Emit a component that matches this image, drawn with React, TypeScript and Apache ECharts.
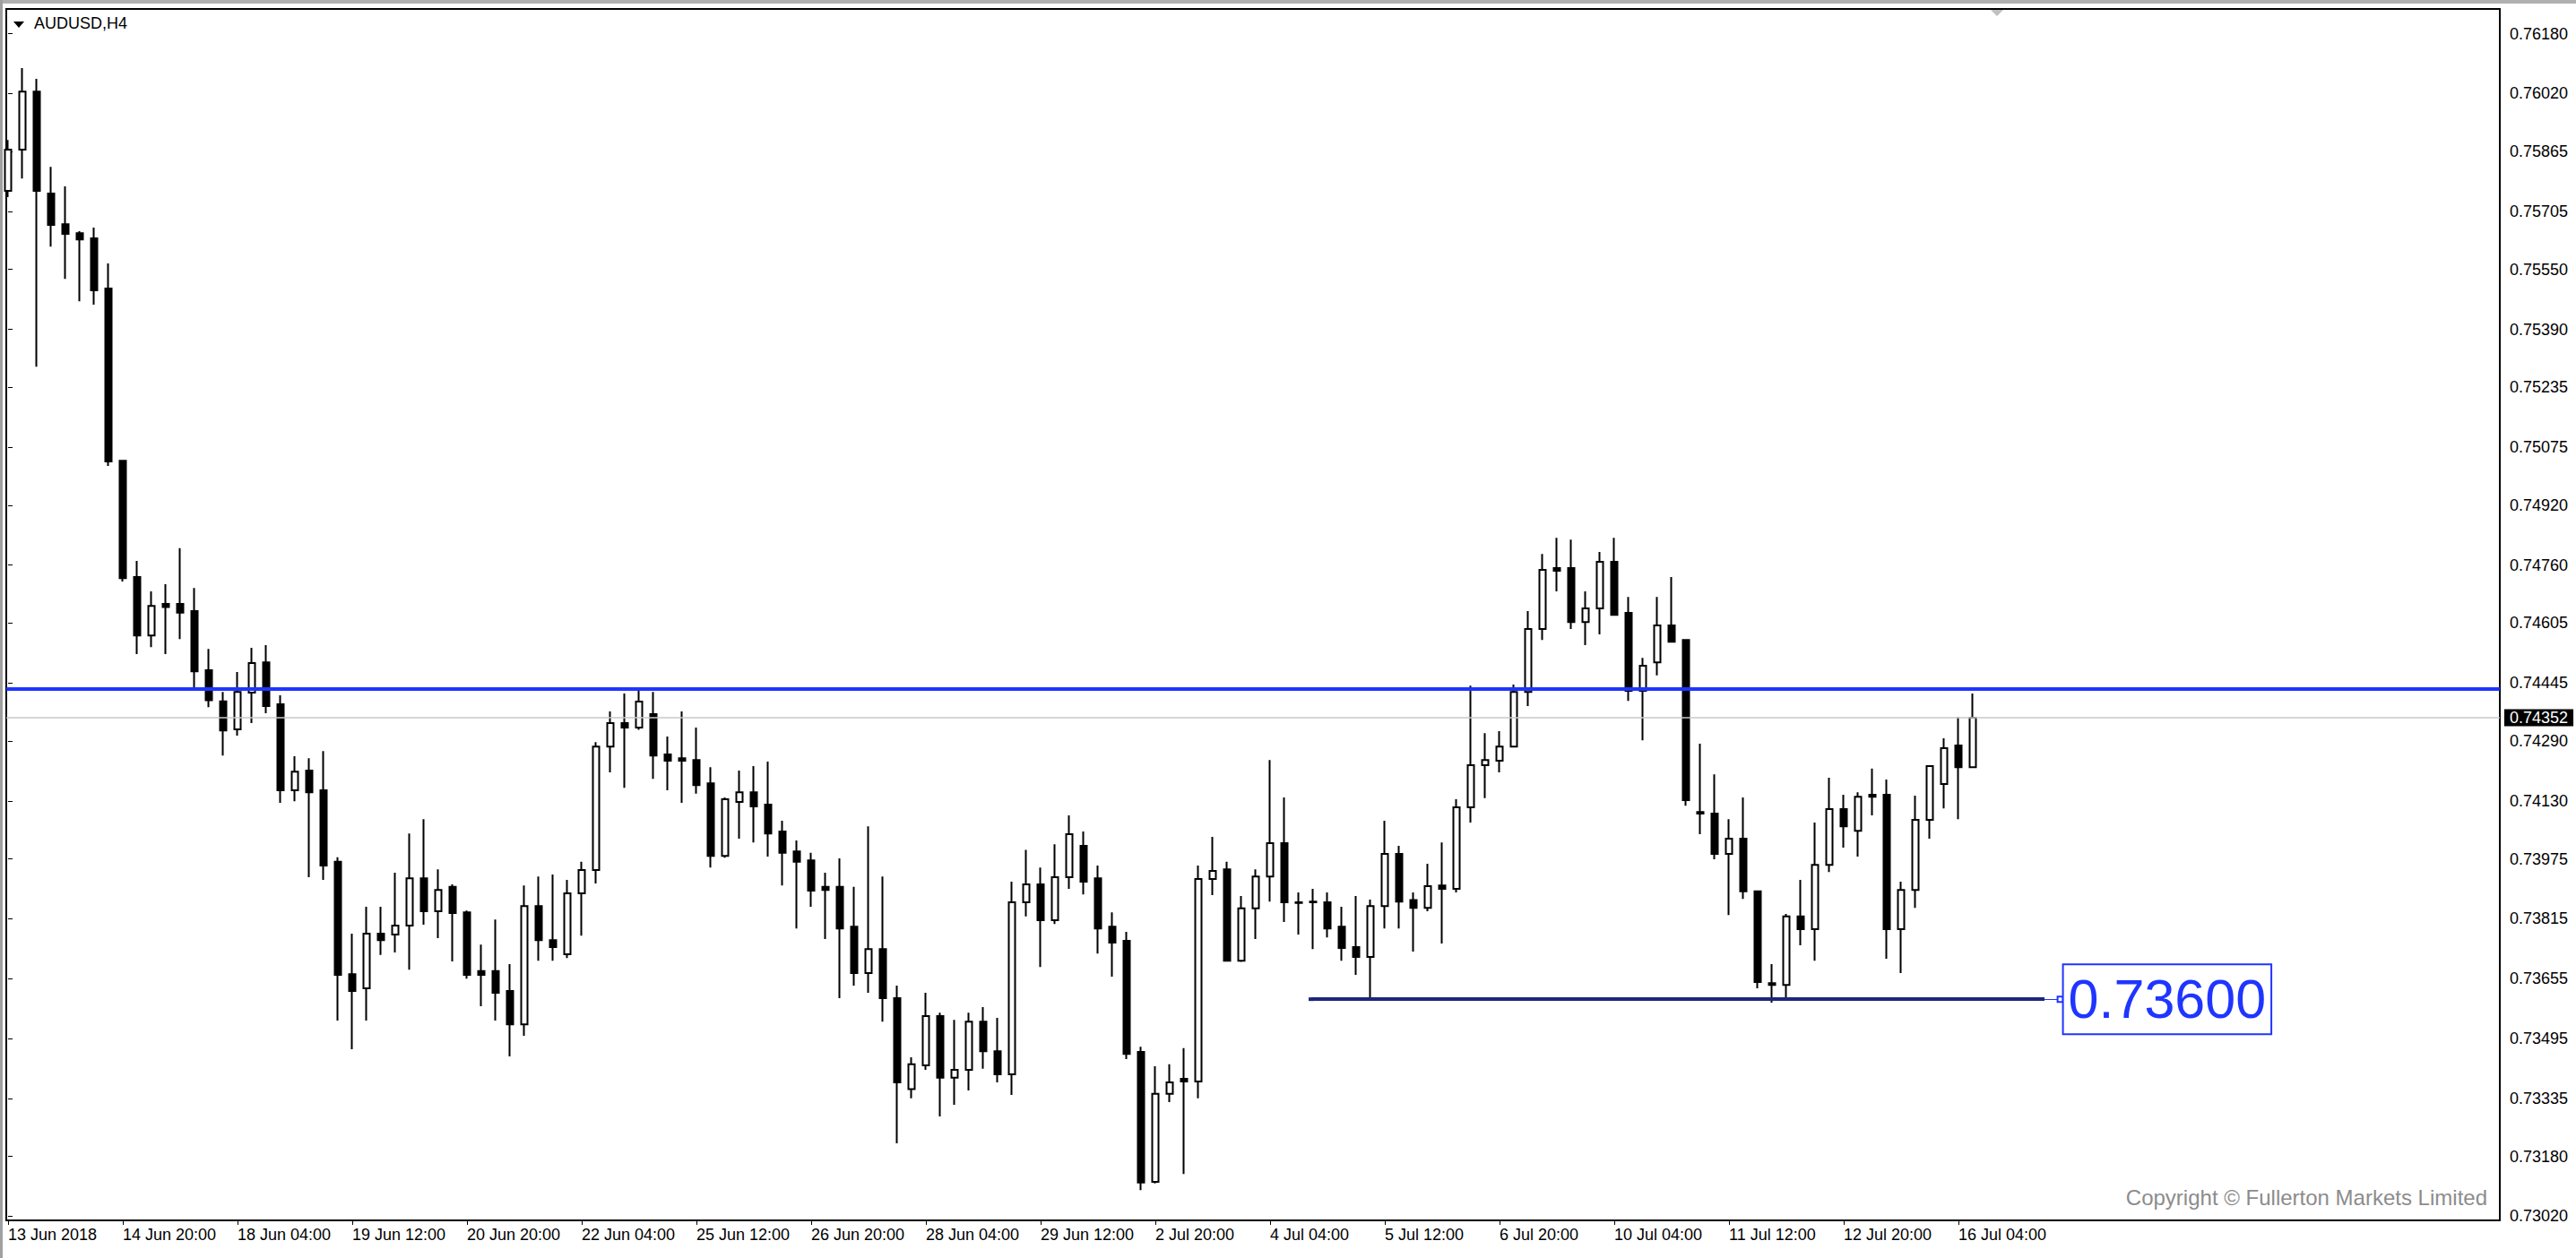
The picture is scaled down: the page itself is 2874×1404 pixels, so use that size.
import { useEffect, useRef } from 'react'
import * as echarts from 'echarts'

// AUDUSD H4, 138 bars from 13 Jun 2018 12:00 to 16 Jul 2018 08:00
const OPEN = [
  0.7576, 0.7587, 0.76025, 0.75753, 0.75671, 0.75647, 0.75633, 0.75499, 0.75039, 0.74728,
  0.74572, 0.74656, 0.74656, 0.74637, 0.74479, 0.74396, 0.74321, 0.74419, 0.745, 0.74388,
  0.74158, 0.74211, 0.74158, 0.73967, 0.73667, 0.73629, 0.73775, 0.73773, 0.73797, 0.73923,
  0.73835, 0.739, 0.73832, 0.73675, 0.73675, 0.73622, 0.73533, 0.73849, 0.73758, 0.7372,
  0.73883, 0.73945, 0.74275, 0.74338, 0.74326, 0.74362, 0.74254, 0.74244, 0.74239, 0.74177,
  0.73983, 0.74127, 0.74153, 0.7412, 0.74048, 0.73995, 0.73971, 0.739, 0.739, 0.73794,
  0.7367, 0.73734, 0.73603, 0.7336, 0.73423, 0.73555, 0.7339, 0.73411, 0.7354, 0.73461,
  0.73399, 0.73859, 0.73907, 0.73811, 0.73926, 0.7401, 0.73923, 0.73794, 0.73756, 0.73459,
  0.73112, 0.73347, 0.73387, 0.7338, 0.73921, 0.73947, 0.73703, 0.73843, 0.73928, 0.74017,
  0.73859, 0.73859, 0.73859, 0.73794, 0.73739, 0.73713, 0.73849, 0.73988, 0.73865, 0.73844,
  0.73904, 0.73895, 0.74113, 0.74225, 0.74237, 0.74275, 0.74421, 0.74589, 0.74752, 0.74752,
  0.74608, 0.74644, 0.74769, 0.74632, 0.74424, 0.745, 0.74599, 0.7456, 0.741, 0.74096,
  0.73988, 0.74029, 0.73888, 0.73643, 0.73638, 0.73821, 0.73787, 0.73959, 0.74108, 0.7405,
  0.74146, 0.74146, 0.73787, 0.73892, 0.74079, 0.74175, 0.74278, 0.7422,
]
const HIGH = [
  0.75896, 0.76088, 0.76059, 0.75824, 0.75772, 0.75652, 0.75662, 0.75566, 0.75041, 0.74771,
  0.7469, 0.74709, 0.74805, 0.74699, 0.74536, 0.74421, 0.74474, 0.74539, 0.74546, 0.74412,
  0.74249, 0.74244, 0.74263, 0.73979, 0.73775, 0.73847, 0.73847, 0.73938, 0.74043, 0.74081,
  0.73947, 0.73907, 0.73837, 0.73746, 0.73813, 0.73694, 0.73904, 0.73928, 0.73933, 0.73919,
  0.73967, 0.74287, 0.74369, 0.74417, 0.74431, 0.74421, 0.74302, 0.74369, 0.74326, 0.7422,
  0.74139, 0.74211, 0.74223, 0.74235, 0.74077, 0.74024, 0.73991, 0.73938, 0.73976, 0.739,
  0.74062, 0.73928, 0.73636, 0.73445, 0.73617, 0.73564, 0.73545, 0.73564, 0.73579, 0.7355,
  0.73914, 0.73999, 0.73952, 0.74014, 0.74091, 0.74048, 0.73957, 0.73832, 0.7378, 0.73473,
  0.73421, 0.73426, 0.73469, 0.73957, 0.74034, 0.73967, 0.73876, 0.73947, 0.74239, 0.74139,
  0.73885, 0.73895, 0.73885, 0.73847, 0.73876, 0.73866, 0.74077, 0.7401, 0.73885, 0.73962,
  0.74019, 0.74134, 0.74438, 0.74311, 0.74316, 0.74441, 0.74637, 0.7479, 0.74833, 0.74828,
  0.7469, 0.74795, 0.74833, 0.74675, 0.74512, 0.74675, 0.74728, 0.74562, 0.74283, 0.74201,
  0.74081, 0.74139, 0.7389, 0.73694, 0.73828, 0.73919, 0.74072, 0.74192, 0.74146, 0.74153,
  0.74216, 0.74187, 0.73914, 0.74144, 0.74225, 0.74297, 0.74354, 0.74417,
]
const LOW = [
  0.75743, 0.75793, 0.7529, 0.75611, 0.75525, 0.75465, 0.75456, 0.75025, 0.74716, 0.74522,
  0.74541, 0.74522, 0.74562, 0.74433, 0.7438, 0.74251, 0.74304, 0.74338, 0.74364, 0.74125,
  0.74129, 0.73926, 0.73919, 0.73543, 0.73466, 0.73543, 0.73718, 0.73725, 0.73679, 0.73799,
  0.73763, 0.73701, 0.73655, 0.73581, 0.73543, 0.73447, 0.73502, 0.73703, 0.73703, 0.7371,
  0.7377, 0.73909, 0.74206, 0.74165, 0.7432, 0.74189, 0.74158, 0.74125, 0.74149, 0.73952,
  0.73978, 0.74029, 0.74019, 0.73981, 0.73904, 0.73789, 0.73847, 0.73761, 0.73603, 0.73636,
  0.73617, 0.7354, 0.73215, 0.73335, 0.73411, 0.73287, 0.73318, 0.73356, 0.73414, 0.73378,
  0.73344, 0.73821, 0.73686, 0.73801, 0.73895, 0.7388, 0.73722, 0.7366, 0.7344, 0.7309,
  0.73108, 0.73325, 0.73133, 0.73335, 0.73878, 0.73701, 0.737, 0.73761, 0.73861, 0.73806,
  0.73773, 0.73734, 0.73765, 0.73703, 0.73665, 0.73605, 0.73789, 0.73789, 0.73727, 0.73835,
  0.73749, 0.73885, 0.74072, 0.74137, 0.74206, 0.74275, 0.74383, 0.7456, 0.7469, 0.74589,
  0.74546, 0.74575, 0.74625, 0.74397, 0.74292, 0.74465, 0.74553, 0.74117, 0.74041, 0.73974,
  0.73825, 0.73868, 0.73629, 0.73591, 0.73605, 0.73744, 0.73703, 0.7394, 0.74005, 0.73981,
  0.74091, 0.73708, 0.7367, 0.73844, 0.74029, 0.7411, 0.74081, 0.74218,
]
const CLOSE = [
  0.7587, 0.76025, 0.7576, 0.75669, 0.75645, 0.7563, 0.75494, 0.75037, 0.74725, 0.74572,
  0.74651, 0.74648, 0.74633, 0.74476, 0.74399, 0.74318, 0.74421, 0.74498, 0.74383, 0.74158,
  0.74208, 0.74153, 0.73957, 0.73665, 0.73622, 0.73775, 0.73758, 0.73797, 0.73923, 0.73835,
  0.73892, 0.7383, 0.73665, 0.73665, 0.73617, 0.73533, 0.73849, 0.73758, 0.73739, 0.73883,
  0.73945, 0.74275, 0.74338, 0.74326, 0.74395, 0.74251, 0.74237, 0.74237, 0.74172, 0.73983,
  0.74134, 0.74153, 0.74115, 0.74043, 0.73991, 0.73967, 0.7389, 0.73892, 0.73789, 0.7367,
  0.73734, 0.73603, 0.73378, 0.73426, 0.73555, 0.7339, 0.73411, 0.7354, 0.73461, 0.73399,
  0.73859, 0.73907, 0.73811, 0.73926, 0.74041, 0.73914, 0.73789, 0.73751, 0.73454, 0.7311,
  0.73347, 0.73378, 0.7338, 0.73921, 0.73943, 0.73703, 0.73843, 0.73928, 0.74017, 0.73859,
  0.73857, 0.73861, 0.73789, 0.73737, 0.73713, 0.73849, 0.73988, 0.73861, 0.73844, 0.73902,
  0.73895, 0.74113, 0.74225, 0.74239, 0.74275, 0.74421, 0.74589, 0.74747, 0.74745, 0.74608,
  0.74644, 0.74769, 0.74627, 0.74424, 0.74491, 0.74599, 0.74555, 0.74132, 0.74096, 0.73988,
  0.74029, 0.73888, 0.73646, 0.73638, 0.73821, 0.73787, 0.73959, 0.74108, 0.74062, 0.74141,
  0.74141, 0.73787, 0.73892, 0.74079, 0.74223, 0.74271, 0.7422, 0.74352,
]

// one time label every 8 bars, starting at bar 0
const TIME_LABELS = [
  '13 Jun 2018', '14 Jun 20:00', '18 Jun 04:00', '19 Jun 12:00', '20 Jun 20:00', '22 Jun 04:00',
  '25 Jun 12:00', '26 Jun 20:00', '28 Jun 04:00', '29 Jun 12:00', '2 Jul 20:00', '4 Jul 04:00',
  '5 Jul 12:00', '6 Jul 20:00', '10 Jul 04:00', '11 Jul 12:00', '12 Jul 20:00', '16 Jul 04:00',
]
const LABEL_STEP = 8

const PRICE_TICKS = [
  0.7618, 0.7602, 0.75865, 0.75705, 0.7555, 0.7539, 0.75235, 0.75075, 0.7492, 0.7476, 0.74605,
  0.74445, 0.7429, 0.7413, 0.73975, 0.73815, 0.73655, 0.73495, 0.73335, 0.7318, 0.7302,
]

const RESISTANCE = 0.7443
const BID = 0.74352
const SUPPORT = 0.736
const SUPPORT_FROM = 90.875
const SUPPORT_TO = 142

const X_MIN = -0.125
const X_MAX = 173.75

const FONT = 'Liberation Sans'
const BLUE = '#1f35ff'
const NAVY = '#1c267c'

export default function App() {
  const chartRef = useRef<HTMLDivElement>(null)

  useEffect(() => {
    if (!chartRef.current) return
    document.body.style.margin = '0'
    document.body.style.overflow = 'hidden'

    const chart = echarts.init(chartRef.current, null, { renderer: 'svg' })

    const candles = OPEN.map((o, i) => [i, o, CLOSE[i], LOW[i], HIGH[i]])
    const tickIdx = TIME_LABELS.map((_, k) => k * LABEL_STEP)

    const option: any = {
      animation: false,
      backgroundColor: '#fff',
      textStyle: { fontFamily: FONT },
      grid: {
        left: 7,
        right: 85,
        top: 10,
        bottom: 42,
        show: true,
        borderColor: '#000',
        borderWidth: 2,
        backgroundColor: '#fff',
        outerBoundsMode: 'none',
      },
      xAxis: {
        type: 'value',
        min: X_MIN,
        max: X_MAX,
        splitLine: { show: false },
        axisLine: { show: false },
        axisTick: {
          show: true,
          customValues: tickIdx,
          length: 5,
          lineStyle: { color: '#000', width: 1 },
        },
        axisLabel: {
          customValues: tickIdx,
          formatter: (v: number) => TIME_LABELS[Math.round(v / LABEL_STEP)] ?? '',
          align: 'left',
          margin: 7,
          color: '#000',
          fontSize: 18,
          fontFamily: FONT,
        },
      },
      yAxis: {
        type: 'value',
        position: 'right',
        min: 0.73009,
        max: 0.76246,
        scale: true,
        splitLine: { show: false },
        axisLine: { show: false },
        axisTick: {
          show: true,
          customValues: PRICE_TICKS,
          length: 5,
          lineStyle: { color: '#000', width: 1 },
        },
        axisLabel: {
          customValues: PRICE_TICKS,
          formatter: (v: number) => v.toFixed(5),
          margin: 11,
          color: '#000',
          fontSize: 18,
          fontFamily: FONT,
        },
      },
      series: [
        {
          type: 'candlestick',
          data: candles,
          barWidth: 7,
          clip: true,
          itemStyle: {
            color: '#fff',
            color0: '#000',
            borderColor: '#000',
            borderColor0: '#000',
            borderColorDoji: '#000',
            borderWidth: 2,
          },
          markLine: {
            silent: true,
            animation: false,
            symbol: ['none', 'none'],
            data: [
              [
                { coord: [X_MIN, BID] },
                {
                  coord: [X_MAX, BID],
                  lineStyle: { color: '#c8c8c8', width: 1.5, type: 'solid' },
                  label: {
                    show: true,
                    position: 'end',
                    distance: 5,
                    formatter: () => BID.toFixed(5),
                    color: '#fff',
                    backgroundColor: '#000',
                    padding: [1, 6, 0, 6],
                    fontSize: 18,
                    fontFamily: FONT,
                  },
                },
              ],
              [
                { coord: [X_MIN, RESISTANCE] },
                {
                  coord: [X_MAX, RESISTANCE],
                  lineStyle: { color: BLUE, width: 4, type: 'solid' },
                  label: { show: false },
                },
              ],
              [
                { coord: [SUPPORT_FROM, SUPPORT], symbol: 'rect', symbolSize: [4, 6] },
                {
                  coord: [SUPPORT_TO, SUPPORT],
                  lineStyle: { color: NAVY, width: 4, type: 'solid' },
                  label: { show: false },
                },
              ],
              [
                { coord: [SUPPORT_TO, SUPPORT] },
                {
                  coord: [SUPPORT_TO + 1.1, SUPPORT],
                  symbol: 'emptyRect',
                  symbolSize: 6,
                  lineStyle: { color: BLUE, width: 1, type: 'solid' },
                  label: {
                    show: true,
                    position: 'end',
                    distance: 4,
                    formatter: () => SUPPORT.toFixed(5),
                    color: BLUE,
                    backgroundColor: '#fff',
                    borderColor: BLUE,
                    borderWidth: 2,
                    padding: [4, 5, 2, 5],
                    fontSize: 61,
                    lineHeight: 70,
                    fontFamily: FONT,
                  },
                },
              ],
            ],
          },
        },
      ],
      graphic: [
        { type: 'rect', left: 0, top: 0, shape: { x: 0, y: 0, width: 2874, height: 4 }, style: { fill: '#b0b0b0' }, silent: true },
        { type: 'rect', left: 0, top: 0, shape: { x: 0, y: 0, width: 3, height: 1404 }, style: { fill: '#a0a0a0' }, silent: true },
        {
          type: 'polygon',
          shape: { points: [[15, 24], [27, 24], [21, 31]] },
          style: { fill: '#000' },
          silent: true,
        },
        {
          type: 'text',
          x: 38,
          y: 26,
          style: { text: 'AUDUSD,H4', fill: '#000', font: `18px "${FONT}"`, verticalAlign: 'middle' },
          silent: true,
        },
        {
          type: 'polygon',
          shape: { points: [[2221, 11], [2235, 11], [2228, 18]] },
          style: { fill: '#c0c0c0' },
          silent: true,
        },
        {
          type: 'text',
          x: 2775,
          y: 1336,
          style: {
            text: 'Copyright © Fullerton Markets Limited',
            fill: '#8c8c8c',
            font: `24px "${FONT}"`,
            align: 'right',
            verticalAlign: 'middle',
          },
          silent: true,
        },
      ],
    }

    chart.setOption(option)

    const handleResize = () => chart.resize()
    window.addEventListener('resize', handleResize)

    return () => {
      window.removeEventListener('resize', handleResize)
      chart.dispose()
    }
  }, [])

  return <div ref={chartRef} style={{ width: '2874px', height: '1404px' }} />
}
